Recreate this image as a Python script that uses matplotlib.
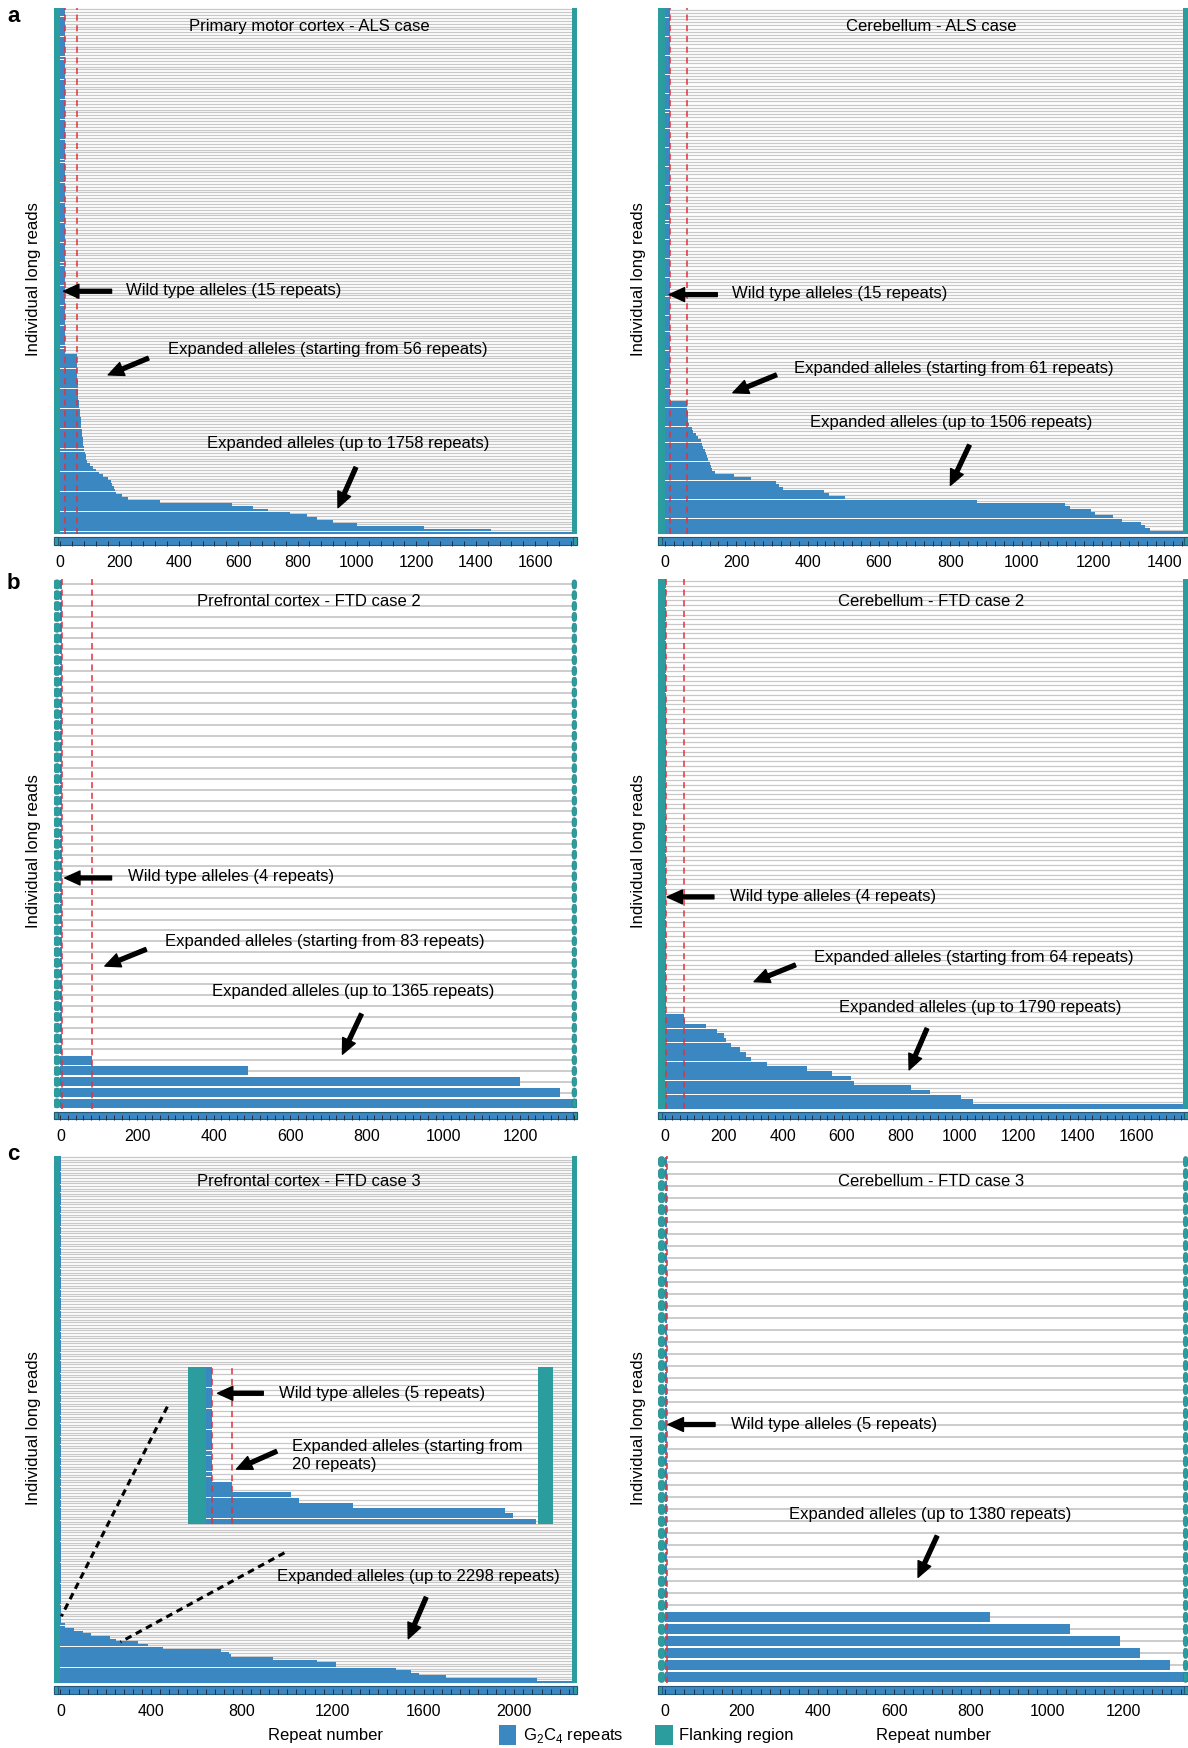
import numpy as np
import matplotlib.pyplot as plt
from matplotlib.patches import Rectangle, FancyArrowPatch, FancyBboxPatch
from matplotlib.lines import Line2D
from matplotlib.ticker import MultipleLocator

plt.rcParams['font.family'] = ['Liberation Sans', 'DejaVu Sans']
plt.rcParams['mathtext.fontset'] = 'custom'
plt.rcParams['mathtext.rm'] = 'Liberation Sans'

BLUE = '#3a87c2'
TEAL = '#2b9d9e'
RED = '#e3323b'
GREY = '#c8c8c8'

# layout units of the reference page
W, H = 1065.0, 1568.0

# ---- repeat counts per read (wild-type count, wild-type size, expanded reads top->bottom)
a_motor_wt_n, a_motor_wt = 121, 15
a_motor_exp = [56, 56, 56, 57, 57, 57, 58, 58, 58, 59, 59, 60, 60, 61, 61,
               62, 63, 64, 65, 66, 67, 68, 69, 70, 71, 72, 73, 74, 75, 76, 77, 78,
               80, 82, 84, 86, 88, 90,
               100, 110, 120, 130, 145, 160, 170, 175, 180, 185, 190, 210, 230,
               335, 580, 650, 700, 775, 830, 865, 920, 1000, 1225, 1450, 1758]

a_cereb_wt_n, a_cereb_wt = 124, 15
a_cereb_exp = [61, 62, 63, 64, 65, 65, 66, 68, 75, 80, 88, 92, 100, 105, 108,
               112, 115, 118, 120, 125, 128, 132, 140, 195, 240, 310, 320, 330,
               445, 460, 505, 875, 1120, 1135, 1195, 1205, 1255, 1280, 1335,
               1345, 1360, 1506]

b_pfc_wt_n, b_pfc_wt = 44, 4
b_pfc_exp = [83, 489, 1200, 1304, 1365]

b_cereb_wt_n, b_cereb_wt = 92, 4
b_cereb_exp = [64, 67, 138, 178, 200, 208, 225, 256, 276, 292, 345, 481, 566,
               631, 640, 834, 900, 1004, 1046, 1790]

c_pfc_wt_n, c_pfc_wt = 178, 5
c_pfc_exp = [20, 20, 58, 100, 134, 218, 243, 343, 385, 452, 708, 745, 753,
             937, 1130, 1213, 1213, 1481, 1545, 1582, 1700, 2100, 2298]

c_inset_wt_n, c_inset_wt = 22, 5
c_inset_exp = [20, 20, 66, 72, 114, 232, 238, 256]

c_cereb_wt_n, c_cereb_wt = 38, 5
c_cereb_exp = [850, 1059, 1190, 1244, 1322, 1380]


def fig_rect(x0, y0, x1, y1):
    return [x0 / W, 1 - y1 / H, (x1 - x0) / W, (y1 - y0) / H]


def fx(x):
    return x / W


def fy(y):
    return 1 - y / H


fig = plt.figure(figsize=(11.88, 17.49), dpi=100)


def draw_reads(ax, lengths, xlim, dense, band=0.0, rflank=0.009):
    n = len(lengths)
    rows = np.arange(n)
    span = xlim[1] - xlim[0]
    fl = span * rflank
    bh = 0.94 if dense else 0.84
    ax.hlines(rows, xlim[0], xlim[1], color=GREY, lw=0.9 if dense else 1.3, zorder=1)
    ax.barh(rows, lengths, left=0, height=bh, color=BLUE, lw=0, zorder=2)
    if dense:
        # flanks of neighbouring reads merge into one column
        ax.barh(rows, -xlim[0], left=xlim[0], height=1.0, color=TEAL, lw=0, zorder=3)
        ax.barh(rows, fl, left=xlim[1] - fl, height=1.0, color=TEAL, lw=0, zorder=3)
    else:
        # rounded flank caps for the sparse panels
        for r in rows:
            for x0, w in [(xlim[0], -xlim[0]), (xlim[1] - fl, fl)]:
                ax.add_patch(FancyBboxPatch((x0, r - bh / 2), w, bh,
                                            boxstyle='round,pad=0,rounding_size=%g' % (w * 0.45),
                                            mutation_aspect=bh / w * 0.9,
                                            facecolor=TEAL, edgecolor='#1f7f80',
                                            lw=0.4, zorder=3))
    extra = band * n / (1 - band)
    ax.set_ylim(n - 0.5 + extra, -0.5)
    ax.set_xlim(xlim)
    for s in ax.spines.values():
        s.set_visible(False)
    ax.set_yticks([])


def panel(rect, wt_n, wt, exp, xlim, major, minor, reds, dense):
    ax = fig.add_axes(rect)
    lengths = [wt] * wt_n + exp
    band = 10 / 482
    draw_reads(ax, lengths, xlim, dense, band)
    # ruler read at the bottom
    tr = ax.get_xaxis_transform()
    span = xlim[1] - xlim[0]
    ax.add_patch(Rectangle((xlim[0], 0.001), span, 7 / 482,
                           transform=tr, facecolor=BLUE, edgecolor='#24587a',
                           lw=0.8, zorder=2.2, clip_on=False))
    for x0 in [xlim[0], xlim[1] - span * 0.008]:
        ax.add_patch(Rectangle((x0, 0.001), span * 0.008, 7 / 482, transform=tr,
                               facecolor=TEAL, edgecolor='#24587a', lw=0.8,
                               zorder=2.3, clip_on=False))
    for xr in reds:
        ax.axvline(xr, ymin=band, ymax=1, color=RED, ls=(0, (4, 3)), lw=1.1, zorder=4)
    ax.set_axisbelow(False)
    ax.xaxis.set_major_locator(MultipleLocator(major))
    ax.xaxis.set_minor_locator(MultipleLocator(minor))
    ax.tick_params(axis='x', which='both', direction='in', length=3.5, width=0.7,
                   color='#1f2f3f', labelsize=11.5, pad=6)
    return ax


L0, L1 = 48, 517
R0, R1 = 590, 1065

panel(fig_rect(L0, 8, L1, 490), a_motor_wt_n, a_motor_wt, a_motor_exp,
      (-22, 1740), 200, 40, [15, 56], True)
panel(fig_rect(R0, 8, R1, 490), a_cereb_wt_n, a_cereb_wt, a_cereb_exp,
      (-19, 1466), 200, 25, [15, 61], True)
panel(fig_rect(L0, 520, L1, 1005), b_pfc_wt_n, b_pfc_wt, b_pfc_exp,
      (-18, 1348), 200, 20, [4, 83], False)
panel(fig_rect(R0, 520, R1, 1005), b_cereb_wt_n, b_cereb_wt, b_cereb_exp,
      (-23, 1774), 200, 25, [4, 64], True)
panel(fig_rect(L0, 1037, L1, 1520), c_pfc_wt_n, c_pfc_wt, c_pfc_exp,
      (-30, 2275), 400, 40, [], True)
panel(fig_rect(R0, 1037, R1, 1520), c_cereb_wt_n, c_cereb_wt, c_cereb_exp,
      (-18, 1369), 200, 25, [5], False)

# inset of panel c (prefrontal cortex)
axi = fig.add_axes(fig_rect(168.8, 1226, 496, 1367), zorder=5)
axi.set_facecolor('white')
draw_reads(axi, [c_inset_wt] * c_inset_wt_n + c_inset_exp, (-13.5, 269), True,
           0.0, 0.042)
axi.set_xticks([])
for xr in [5, 20]:
    axi.axvline(xr, color=RED, ls=(0, (4, 3)), lw=1.1, zorder=4)

for x0, y0, x1, y1 in [(150, 1262, 55, 1450), (255, 1393, 108, 1473)]:
    fig.add_artist(Line2D([fx(x0), fx(x1)], [fy(y0), fy(y1)], transform=fig.transFigure,
                          color='black', lw=2.2, ls=(0, (2.2, 1.6))))

# titles
for x, y, s in [(277, 24, 'Primary motor cortex - ALS case'),
                (835, 24, 'Cerebellum - ALS case'),
                (277, 539, 'Prefrontal cortex - FTD case 2'),
                (835, 539, 'Cerebellum - FTD case 2'),
                (277, 1059, 'Prefrontal cortex - FTD case 3'),
                (835, 1059, 'Cerebellum - FTD case 3')]:
    fig.text(fx(x), fy(y), s, fontsize=12, ha='center', va='center', zorder=6)

notes = [
    (113, 260, 'Wild type alleles (15 repeats)', (100, 262, 57, 262)),
    (151, 313, 'Expanded alleles (starting from 56 repeats)', (133, 322, 97, 337)),
    (186, 398, 'Expanded alleles (up to 1758 repeats)', (319, 420, 303, 456)),
    (656, 263, 'Wild type alleles (15 repeats)', (643, 265, 600, 265)),
    (712, 330, 'Expanded alleles (starting from 61 repeats)', (696, 337, 657, 353)),
    (726, 379, 'Expanded alleles (up to 1506 repeats)', (869, 400, 852, 436)),
    (115, 786, 'Wild type alleles (4 repeats)', (100, 788, 58, 788)),
    (148, 844, 'Expanded alleles (starting from 83 repeats)', (131, 852, 94, 867)),
    (190, 889, 'Expanded alleles (up to 1365 repeats)', (324, 910, 307, 946)),
    (654, 804, 'Wild type alleles (4 repeats)', (640, 805, 598, 805)),
    (730, 858, 'Expanded alleles (starting from 64 repeats)', (713, 866, 676, 881)),
    (752, 903, 'Expanded alleles (up to 1790 repeats)', (831, 923, 815, 960)),
    (250, 1249, 'Wild type alleles (5 repeats)', (236, 1250, 195, 1250)),
    (262, 1305, 'Expanded alleles (starting from\n20 repeats)', (248, 1302, 212, 1318)),
    (248, 1413, 'Expanded alleles (up to 2298 repeats)', (382, 1433, 366, 1470)),
    (655, 1277, 'Wild type alleles (5 repeats)', (641, 1278, 599, 1278)),
    (707, 1358, 'Expanded alleles (up to 1380 repeats)', (840, 1378, 823, 1415)),
]
for x, y, s, (ax0, ay0, ax1, ay1) in notes:
    fig.text(fx(x), fy(y), s, fontsize=12, ha='left', va='center',
             linespacing=1.25, zorder=7)
    fig.add_artist(FancyArrowPatch((fx(ax0), fy(ay0)), (fx(ax1), fy(ay1)),
                                   transform=fig.transFigure,
                                   arrowstyle='simple,head_length=1.1,head_width=1.0,tail_width=0.28',
                                   mutation_scale=10, color='black',
                                   shrinkA=0, shrinkB=0, zorder=7))

# panel letters and axis labels
for y, s in [(15, 'a'), (523, 'b'), (1035, 'c')]:
    fig.text(fx(12), fy(y), s, fontsize=16, fontweight='bold', ha='center', va='center')
for x in [30, 572]:
    for y in [250, 763, 1280]:
        fig.text(fx(x), fy(y), 'Individual long reads', fontsize=12, rotation=90,
                 ha='center', va='center')
for x in [292, 837]:
    fig.text(fx(x), fy(1556), 'Repeat number', fontsize=12, ha='center', va='center')

# legend
for x0, col, s in [(447, BLUE, 'G$_2$C$_4$ repeats'), (587, TEAL, 'Flanking region')]:
    fig.add_artist(Rectangle((fx(x0), fy(1565)), 16 / W, 18 / H,
                             transform=fig.transFigure, facecolor=col, lw=0))
    fig.text(fx(x0 + 22), fy(1556), s, fontsize=12, ha='left', va='center')

fig.savefig('out.png', dpi=100)
